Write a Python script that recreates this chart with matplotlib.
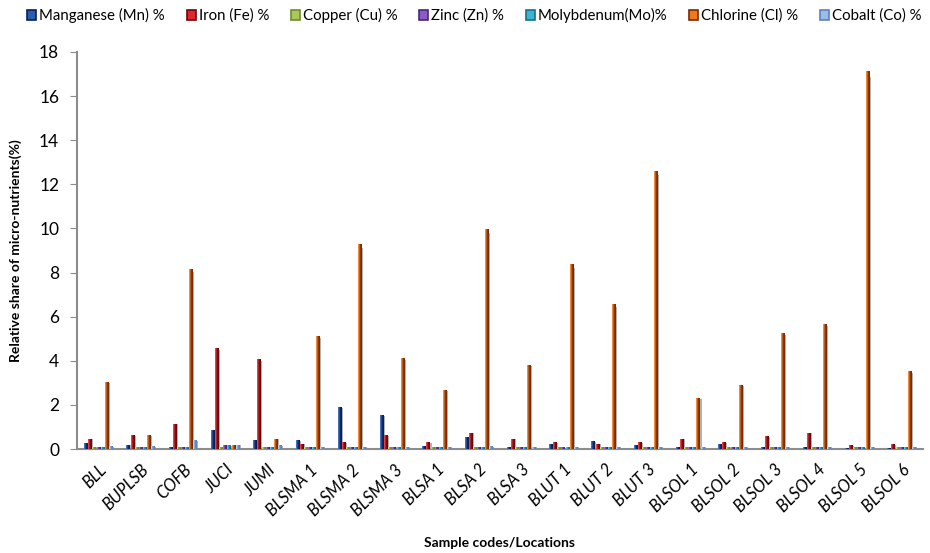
import matplotlib.pyplot as plt
import numpy as np
from matplotlib.colors import to_rgb
from matplotlib.patches import Rectangle

plt.rcParams['font.family'] = ['Lato', 'DejaVu Sans']

samples = ['BLL', 'BUPLSB', 'COFB', 'JUCI', 'JUMI', 'BLSMA 1', 'BLSMA 2', 'BLSMA 3',
           'BLSA 1', 'BLSA 2', 'BLSA 3', 'BLUT 1', 'BLUT 2', 'BLUT 3', 'BLSOL 1',
           'BLSOL 2', 'BLSOL 3', 'BLSOL 4', 'BLSOL 5', 'BLSOL 6']

manganese = [0.23, 0.18, 0.05, 0.86, 0.38, 0.38, 1.90, 1.50, 0.12, 0.51,
             0.05, 0.22, 0.32, 0.15, 0.08, 0.20, 0.05, 0.08, 0.04, 0.04]
iron = [0.44, 0.59, 1.13, 4.55, 4.07, 0.22, 0.29, 0.59, 0.30, 0.72,
        0.45, 0.30, 0.22, 0.30, 0.45, 0.30, 0.55, 0.72, 0.15, 0.20]
copper = [0.08, 0.08, 0.08, 0.09, 0.08, 0.07, 0.08, 0.08, 0.07, 0.08,
          0.07, 0.07, 0.08, 0.07, 0.07, 0.08, 0.07, 0.07, 0.07, 0.07]
zinc = [0.08, 0.08, 0.08, 0.17, 0.08, 0.07, 0.08, 0.08, 0.07, 0.08,
        0.07, 0.07, 0.07, 0.07, 0.07, 0.07, 0.07, 0.07, 0.07, 0.07]
molybdenum = [0.07, 0.07, 0.07, 0.15, 0.07, 0.07, 0.07, 0.07, 0.07, 0.07,
              0.07, 0.07, 0.07, 0.07, 0.07, 0.07, 0.07, 0.07, 0.07, 0.07]
chlorine = [3.03, 0.59, 8.16, 0.17, 0.45, 5.10, 9.25, 4.10, 2.67, 9.95,
            3.80, 8.35, 6.55, 12.60, 2.30, 2.90, 5.25, 5.65, 17.10, 3.50]
cobalt = [0.10, 0.10, 0.38, 0.17, 0.14, 0.08, 0.08, 0.08, 0.08, 0.10,
          0.08, 0.08, 0.08, 0.08, 0.08, 0.08, 0.08, 0.08, 0.08, 0.08]

series = [
    ('Manganese (Mn) %', manganese, '#2a5db0', '#0b1f55'),
    ('Iron (Fe) %', iron, '#e0262c', '#6e0508'),
    ('Copper (Cu) %', copper, '#a9c95f', '#6f8a2c'),
    ('Zinc (Zn) %', zinc, '#8a5cc4', '#4a2580'),
    ('Molybdenum(Mo)%', molybdenum, '#3cb4d6', '#1a6e8a'),
    ('Chlorine (Cl) %', chlorine, '#f07a1a', '#7a2a05'),
    ('Cobalt (Co) %', cobalt, '#9dbde8', '#5c82bd'),
]


def gradient(light, dark, n=24):
    # light edge on the left, darkest just right of centre
    l = np.array(to_rgb(light))
    d = np.array(to_rgb(dark))
    t = np.linspace(0, 1, n)
    w = np.clip(t / 0.7, 0, 1)
    cols = l[None, :] * (1 - w[:, None]) + d[None, :] * w[:, None]
    cols = np.minimum(cols + 0.18 * (1 - t[:, None]) ** 3, 1)
    return cols[None, :, :]


fig = plt.figure(figsize=(9.3, 5.53), dpi=100)
ax = fig.add_axes([0.083, 0.188, 0.909, 0.718])

x = np.arange(len(samples))
step = 0.097
width = 0.085
for k, (name, vals, light, dark) in enumerate(series):
    img = gradient(light, dark)
    for xi, v in zip(x, vals):
        left = xi - 3 * step + k * step - width / 2
        # grey side face of the column
        ax.add_patch(Rectangle((left + width * 0.55, 0), width * 0.85, v * 0.985,
                               facecolor='#7f7f7f', alpha=0.6, lw=0, zorder=2 + k * 0.01))
        ax.imshow(img, extent=[left, left + width, 0, v], aspect='auto',
                  interpolation='bilinear', zorder=3 + k * 0.01)

ax.set_xlim(-0.5, len(samples) - 0.5)
ax.set_ylim(0, 18)
ax.set_yticks(np.arange(0, 19, 2))
ax.tick_params(axis='y', labelsize=12.5, length=5, color='#8c8c8c', direction='out', pad=8)
ax.set_xticks(x)
ax.set_xticklabels(samples, rotation=45, ha='right', rotation_mode='anchor',
                   fontsize=12, style='italic')
ax.tick_params(axis='x', length=0, pad=9)

for side in ['top', 'right']:
    ax.spines[side].set_visible(False)
for side in ['left', 'bottom']:
    ax.spines[side].set_color('#8c8c8c')
    ax.spines[side].set_linewidth(1.5)

ax.set_ylabel('Relative share of micro-nutrients(%)', fontsize=10, fontweight='bold',
              labelpad=12)
ax.set_xlabel('Sample codes/Locations', fontsize=10, fontweight='bold', labelpad=13)

handles = [Rectangle((0, 0), 1, 1, facecolor=light, edgecolor=dark, lw=1.2)
           for name, vals, light, dark in series]
fig.legend(handles, [s[0] for s in series], loc='upper center', ncol=7,
           bbox_to_anchor=(0.51, 1.01), frameon=False, fontsize=10.8,
           handlelength=0.6, handleheight=0.6, handletextpad=0.2, columnspacing=1.45)

fig.savefig('out.png', dpi=100)
